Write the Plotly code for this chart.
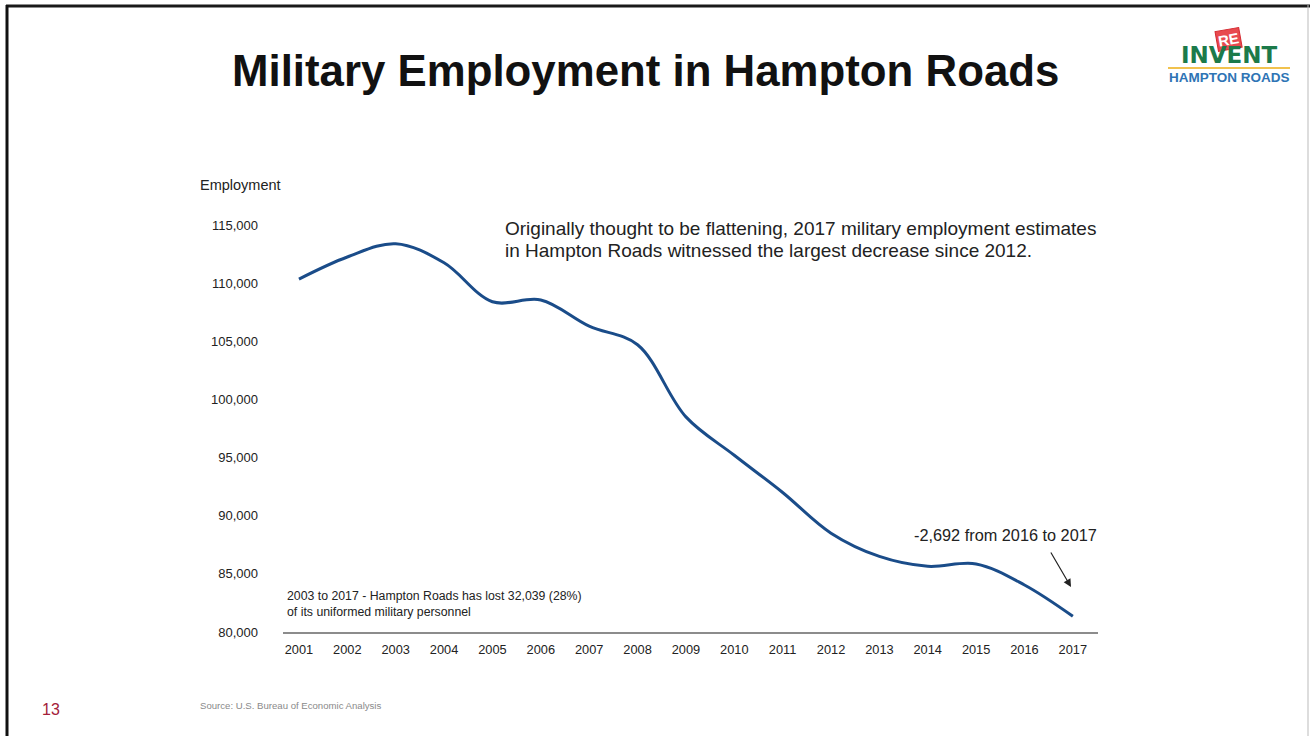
import plotly.graph_objects as go

# Military employment, Hampton Roads
years = [2001, 2002, 2003, 2004, 2005, 2006, 2007, 2008, 2009,
         2010, 2011, 2012, 2013, 2014, 2015, 2016, 2017]
employment = [110350, 112250, 113389, 111750, 108400, 108550, 106300, 104700, 98500,
              95200, 92000, 88500, 86500, 85650, 85850, 84042, 81350]
year_labels = [str(y) for y in years]
y_ticks = [80000, 85000, 90000, 95000, 100000, 105000, 110000, 115000]

W, H = 1310, 736
L, R, T, B = 283, 1098, 225, 632   # plot area in page pixels


def px(x):
    return (x - L) / (R - L)


def py(y):
    return (B - y) / (B - T)


FONT = "Liberation Sans, Arial, sans-serif"

fig = go.Figure()
fig.add_trace(go.Scatter(
    x=years, y=employment, mode="lines",
    line=dict(color="#1a4c89", width=3, shape="spline", smoothing=1.0),
    hoverinfo="x+y", showlegend=False,
))

fig.update_layout(
    width=W, height=H,
    margin=dict(l=L, r=W - R, t=T, b=H - B),
    paper_bgcolor="white", plot_bgcolor="white",
    font=dict(family=FONT, color="#333333"),
    xaxis=dict(
        range=[2000.67, 2017.52], tickmode="array", tickvals=years, ticktext=year_labels,
        showgrid=False, zeroline=False, showline=True, linecolor="#8c8c8c", linewidth=1.5,
        ticks="", tickfont=dict(size=12.8, color="#222222"), ticklabelstandoff=5,
    ),
    yaxis=dict(
        range=[80000, 115000], tickmode="array", tickvals=y_ticks, tickformat=",",
        showgrid=False, zeroline=False, showline=False, ticks="",
        tickfont=dict(size=13, color="#222222"), ticklabelstandoff=24,
    ),
)

ann = []
# Title
ann.append(dict(text="<b>Military Employment in Hampton Roads</b>", x=px(645), y=py(70),
                xanchor="center", yanchor="middle", font=dict(size=43.8, color="#111111")))
# Axis caption
ann.append(dict(text="Employment", x=px(198), y=py(185), xanchor="left", yanchor="middle",
                font=dict(size=14.5, color="#222222")))
# Commentary
ann.append(dict(text="Originally thought to be flattening, 2017 military employment estimates",
                x=px(503), y=py(228), xanchor="left", yanchor="middle",
                font=dict(size=19, color="#222222")))
ann.append(dict(text="in Hampton Roads witnessed the largest decrease since 2012.",
                x=px(503), y=py(250), xanchor="left", yanchor="middle",
                font=dict(size=19, color="#222222")))
# 2016-2017 change
ann.append(dict(text="-2,692 from 2016 to 2017", x=px(1099), y=py(535), xanchor="right",
                yanchor="middle", font=dict(size=16.3, color="#222222")))
ann.append(dict(text="", x=px(1071), y=py(587), ax=-21, ay=-36, showarrow=True,
                arrowhead=2, arrowsize=1.3, arrowwidth=1.2, arrowcolor="#222222"))
# Long-term loss note
ann.append(dict(text="2003 to 2017 - Hampton Roads has lost 32,039 (28%)", x=px(285), y=py(596),
                xanchor="left", yanchor="middle", font=dict(size=12.3, color="#222222")))
ann.append(dict(text="of its uniformed military personnel", x=px(285), y=py(612),
                xanchor="left", yanchor="middle", font=dict(size=12.3, color="#222222")))
# Footer
ann.append(dict(text="Source: U.S. Bureau of Economic Analysis", x=px(198), y=py(705),
                xanchor="left", yanchor="middle", font=dict(size=9.6, color="#8a8a8a")))
ann.append(dict(text="13", x=px(40), y=py(709), xanchor="left", yanchor="middle",
                font=dict(size=16, color="#a3203a")))
# Logo
ann.append(dict(text="<b>RE</b>", x=px(1228), y=py(39), xanchor="center", yanchor="middle",
                textangle=-10, bgcolor="#e84a4f", bordercolor="#d4282f", borderwidth=1,
                borderpad=1, font=dict(size=15, color="white")))
ann.append(dict(text="<b>INVENT</b>", x=px(1229), y=py(55), xanchor="center", yanchor="middle",
                font=dict(family="DejaVu Sans, sans-serif", size=23, color="#1c7a4a")))
ann.append(dict(text="<b>HAMPTON ROADS</b>", x=px(1229), y=py(78), xanchor="center",
                yanchor="middle", font=dict(size=13.5, color="#2e74b5")))

for a in ann:
    a.setdefault("xref", "paper")
    a.setdefault("yref", "paper")
    a.setdefault("showarrow", False)
fig.update_layout(annotations=ann)

shapes = [
    # logo rule
    dict(type="line", x0=px(1168), x1=px(1290), y0=py(68), y1=py(68),
         line=dict(color="#f1c24e", width=2)),
    # slide frame
    dict(type="line", x0=px(6), x1=px(1310), y0=py(6), y1=py(6),
         line=dict(color="#1a1a1a", width=3)),
    dict(type="line", x0=px(7), x1=px(7), y0=py(5), y1=py(736),
         line=dict(color="#111111", width=3)),
    dict(type="line", x0=px(1308), x1=px(1308), y0=py(5), y1=py(736),
         line=dict(color="#bbbbbb", width=1)),
]
for s in shapes:
    s["xref"] = "paper"
    s["yref"] = "paper"
fig.update_layout(shapes=shapes)

fig.write_html("out.html")
